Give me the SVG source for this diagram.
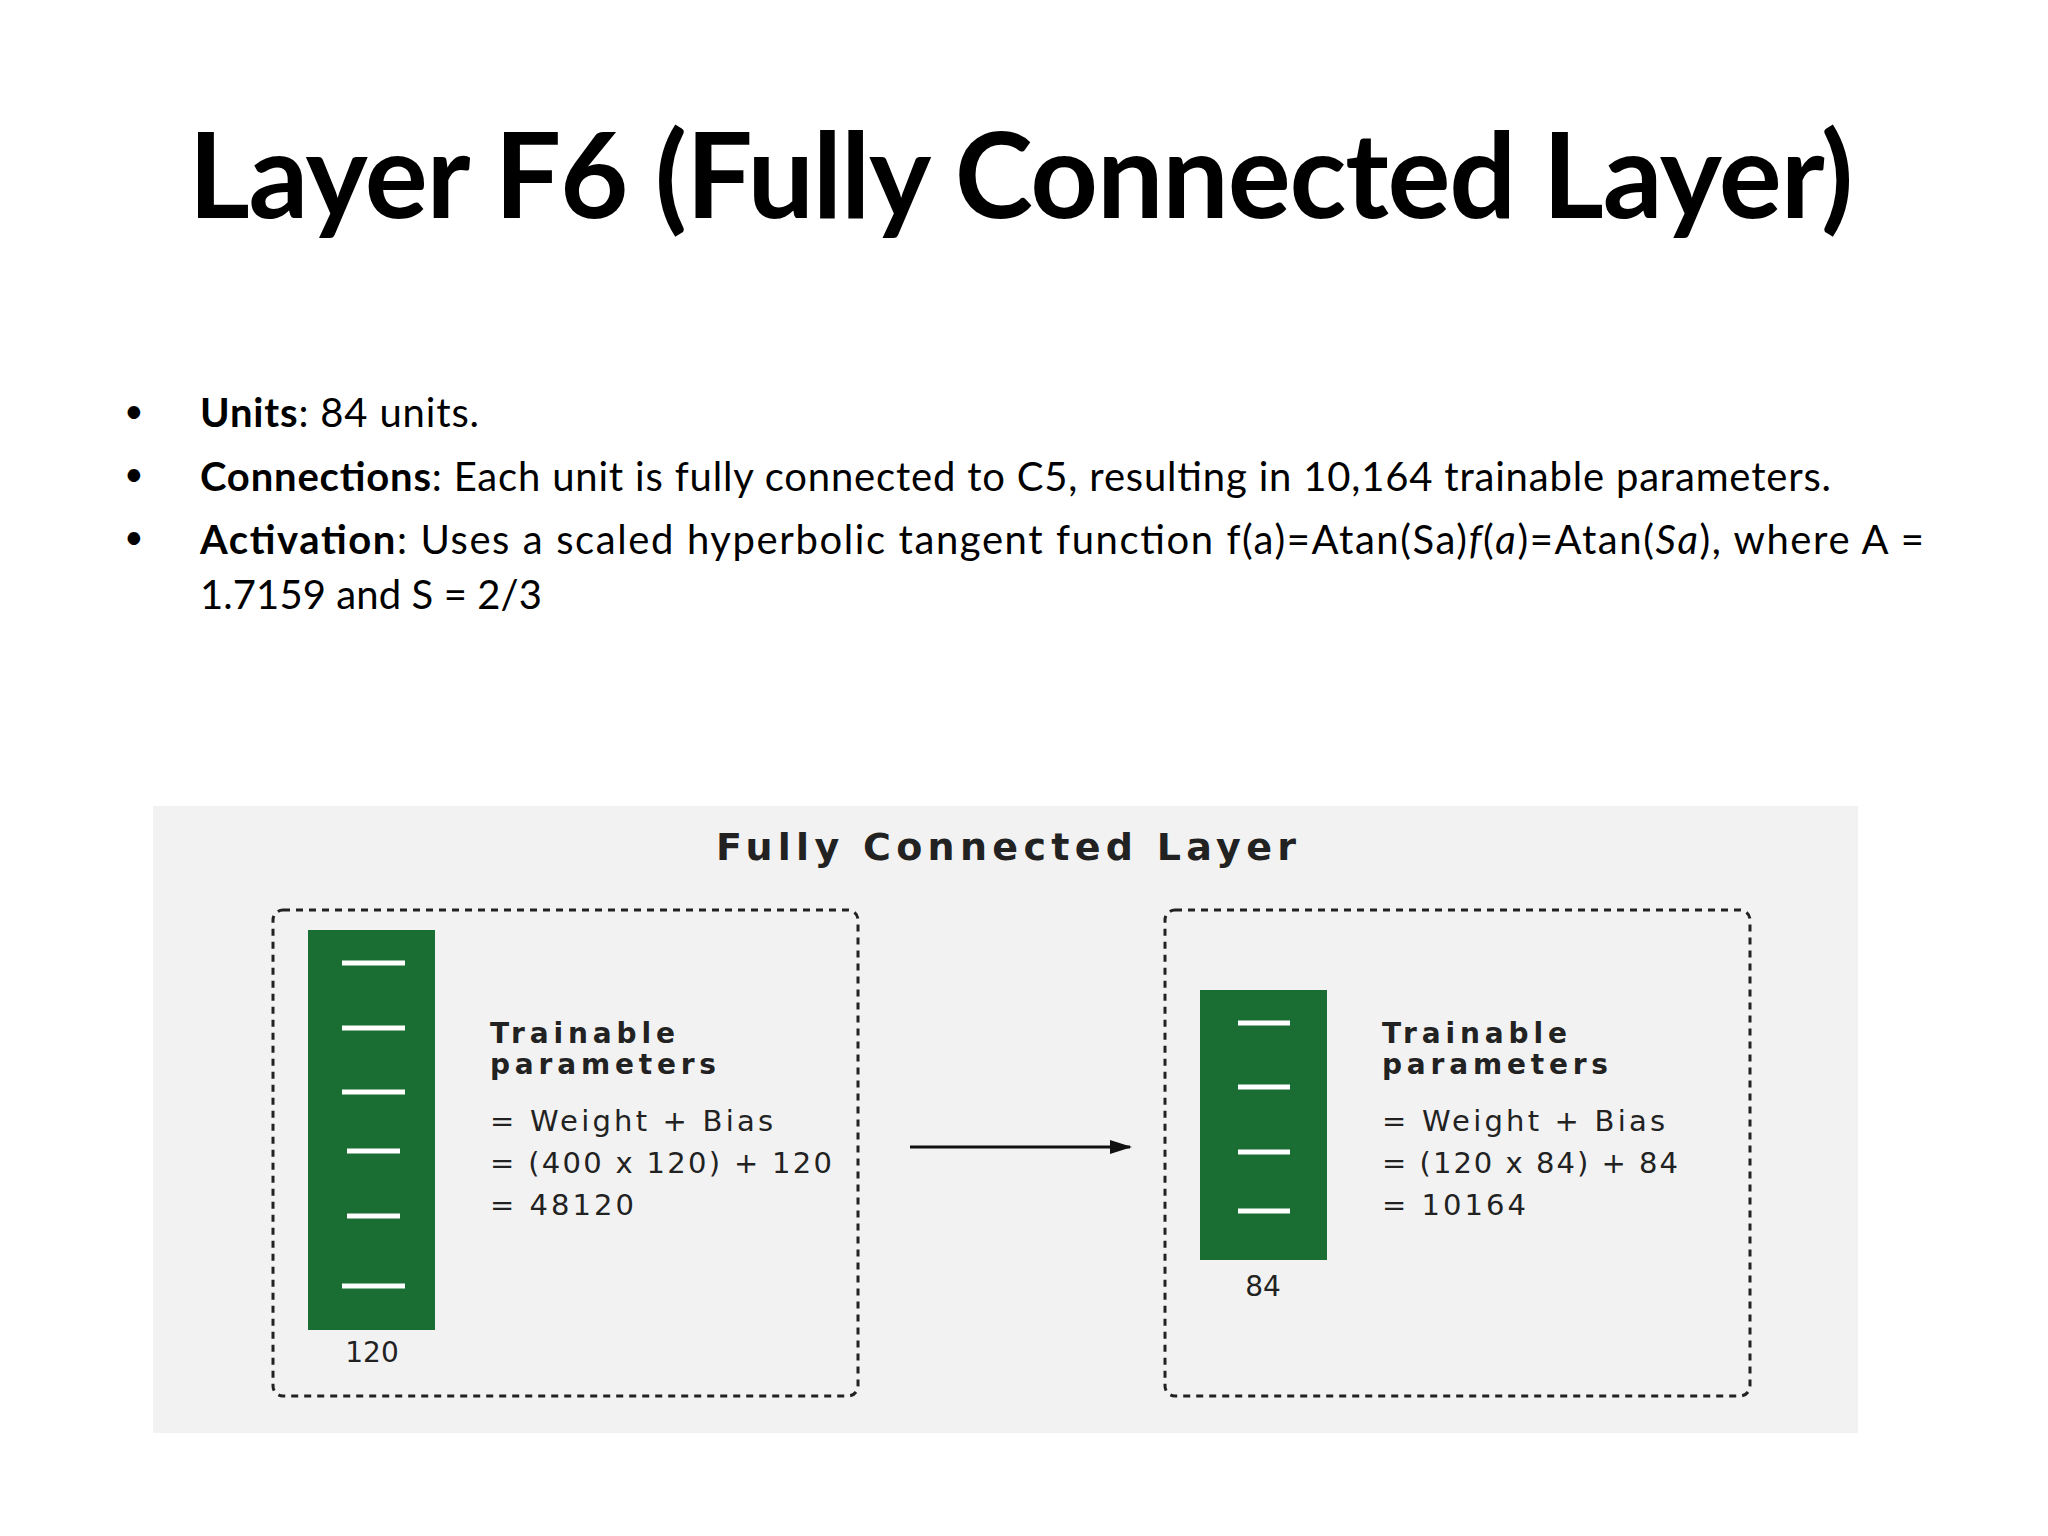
<svg xmlns="http://www.w3.org/2000/svg" width="2048" height="1536" viewBox="0 0 2048 1536">
<style>
.t{font-family:Lato,"Open Sans",sans-serif;fill:#000}
.f{font-family:"DejaVu Sans","Open Sans",sans-serif;fill:#222}
.box{fill:none;stroke:#222;stroke-width:3;stroke-dasharray:7 6}
.bar{fill:#1a6e33}
.d{stroke:#fff;stroke-width:5}
</style>
<defs><marker id="a2" markerWidth="22" markerHeight="14" refX="20" refY="7" orient="auto" markerUnits="userSpaceOnUse"><path d="M0,0 L22,7 L0,14 Z" fill="#111"/></marker></defs>
<rect width="2048" height="1536" fill="#fff"/>
<text class="t" x="1021" y="218" font-size="118" font-weight="bold" text-anchor="middle" textLength="1665">Layer F6 (Fully Connected Layer)</text>
<g class="t" font-size="40">
<text x="124" y="423" font-size="34">•</text><text x="124" y="486" font-size="34">•</text><text x="124" y="549" font-size="34">•</text>
<text x="200" y="427" textLength="279"><tspan font-weight="bold">Units</tspan>: 84 units.</text>
<text x="200" y="491" textLength="1631"><tspan font-weight="bold">Connections</tspan>: Each unit is fully connected to C5, resulting in 10,164 trainable parameters.</text>
<text x="200" y="554" textLength="1724"><tspan font-weight="bold">Activation</tspan>: Uses a scaled hyperbolic tangent function f(a)=Atan(Sa)<tspan font-style="italic">f</tspan>(<tspan font-style="italic">a</tspan>)=Atan(<tspan font-style="italic">Sa</tspan>), where A =</text>
<text x="200" y="609" textLength="342">1.7159 and S = 2/3</text>
</g>
<rect x="153" y="806" width="1705" height="627" fill="#f2f2f2"/>
<text class="f" x="716" y="860" font-size="38" font-weight="bold" textLength="580">Fully Connected Layer</text>
<g id="left">
<rect class="box" x="273" y="910" width="585" height="486" rx="10"/>
<rect class="bar" x="308" y="930" width="127" height="400"/>
<g class="d"><line x1="342" y1="963" x2="405" y2="963"/><line x1="342" y1="1028" x2="405" y2="1028"/><line x1="342" y1="1092" x2="405" y2="1092"/><line x1="347" y1="1151" x2="400" y2="1151"/><line x1="347" y1="1216" x2="400" y2="1216"/><line x1="342" y1="1286" x2="405" y2="1286"/></g>
<text class="f" x="372" y="1362" font-size="28" text-anchor="middle">120</text>
<text class="f" x="490" y="1043" font-size="28" font-weight="bold" textLength="185">Trainable</text>
<text class="f" x="490" y="1074" font-size="28" font-weight="bold" textLength="226">parameters</text>
<text class="f" x="490" y="1131" font-size="29" textLength="283">= Weight + Bias</text>
<text class="f" x="490" y="1173" font-size="29" textLength="342">= (400 x 120) + 120</text>
<text class="f" x="490" y="1215" font-size="29" textLength="144">= 48120</text>
</g>
<g id="right">
<rect class="box" x="1165" y="910" width="585" height="486" rx="10"/>
<rect class="bar" x="1200" y="990" width="127" height="270"/>
<g class="d"><line x1="1238" y1="1023" x2="1290" y2="1023"/><line x1="1238" y1="1087" x2="1290" y2="1087"/><line x1="1238" y1="1152" x2="1290" y2="1152"/><line x1="1238" y1="1211" x2="1290" y2="1211"/></g>
<text class="f" x="1263" y="1296" font-size="28" text-anchor="middle">84</text>
<text class="f" x="1382" y="1043" font-size="28" font-weight="bold" textLength="185">Trainable</text>
<text class="f" x="1382" y="1074" font-size="28" font-weight="bold" textLength="226">parameters</text>
<text class="f" x="1382" y="1131" font-size="29" textLength="283">= Weight + Bias</text>
<text class="f" x="1382" y="1173" font-size="29" textLength="296">= (120 x 84) + 84</text>
<text class="f" x="1382" y="1215" font-size="29" textLength="144">= 10164</text>
</g>
<g id="connectors"><line x1="910" y1="1147" x2="1130" y2="1147" stroke="#111" stroke-width="3" marker-end="url(#a2)"/></g>
</svg>
